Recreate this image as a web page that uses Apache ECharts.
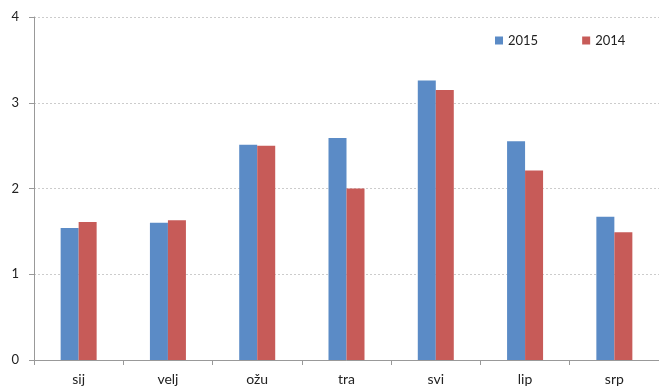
<!DOCTYPE html>
<html><head><meta charset="utf-8">
<script src="https://cdn.jsdelivr.net/npm/echarts@6/dist/echarts.min.js"></script>
<style>html,body{margin:0;padding:0;background:#fff}#c{width:659px;height:390px}</style>
</head><body><div id="c"></div>
<script>
const categories = ['sij','velj','ožu','tra','svi','lip','srp'];
const s2015 = [1.54, 1.60, 2.51, 2.59, 3.26, 2.55, 1.67];
const s2014 = [1.61, 1.63, 2.50, 2.00, 3.15, 2.21, 1.49];
const seriesNames = ['2015','2014'];
const chart = echarts.init(document.getElementById('c'));
const font = 'Lato, "Open Sans", sans-serif';
chart.setOption({
  animation: false,
  textStyle: {fontFamily: font},
  grid: {left: 34, right: 0, top: 17, bottom: 30, containLabel: false},
  legend: {
    data: seriesNames, top: 29, left: 490, itemWidth: 8, itemHeight: 8, itemGap: 44,
    icon: 'rect', textStyle: {fontSize: 13, color: '#222', fontFamily: font}
  },
  xAxis: {
    type: 'category', data: categories,
    axisLine: {lineStyle: {color: '#999', width: 1}},
    axisTick: {show: true, length: 5, lineStyle: {color: '#999'}},
    axisLabel: {fontSize: 14, color: '#222', margin: 12}
  },
  yAxis: {
    type: 'value', min: 0, max: 4, interval: 1,
    axisLine: {show: true, lineStyle: {color: '#999'}},
    axisTick: {show: true, length: 5, lineStyle: {color: '#999'}},
    splitLine: {lineStyle: {color: '#ccc', type: [2, 2]}},
    axisLabel: {fontSize: 13, color: '#222', margin: 15}
  },
  series: [
    {name: seriesNames[0], type: 'bar', data: s2015, barWidth: 18, barGap: '0%',
     itemStyle: {color: '#5B8BC6'}},
    {name: seriesNames[1], type: 'bar', data: s2014, barWidth: 18, barGap: '0%',
     itemStyle: {color: '#C75B58'}}
  ]
});
</script></body></html>
